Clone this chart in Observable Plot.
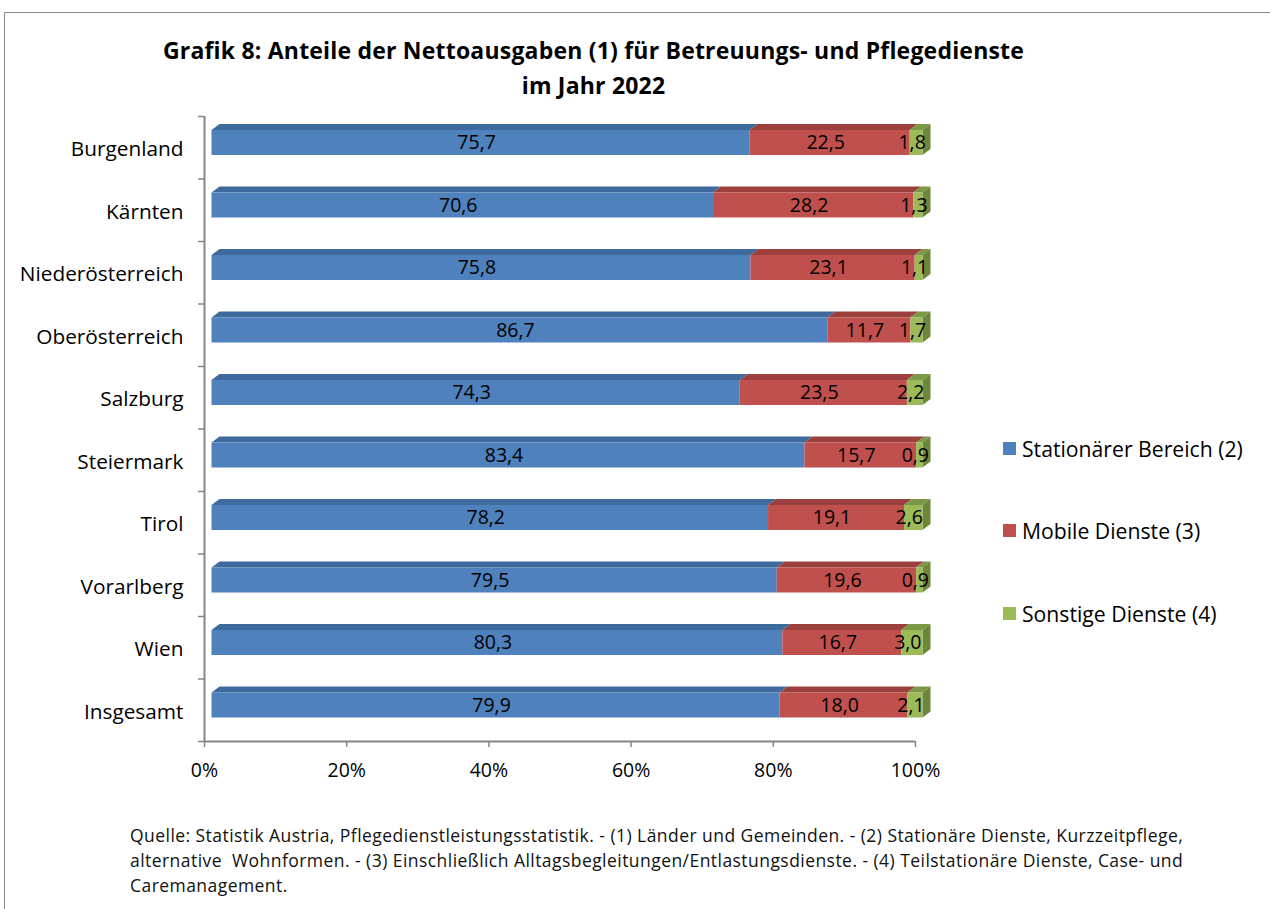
<!DOCTYPE html>
<html><head><meta charset="utf-8">
<script src="https://cdn.jsdelivr.net/npm/d3@7"></script>
<script src="https://cdn.jsdelivr.net/npm/@observablehq/plot@0.6"></script>
<style>
body{margin:0;background:#fff;width:1270px;height:909px;position:relative;overflow:hidden;font-family:"Open Sans",sans-serif;}
#frame{position:absolute;left:4px;top:12px;width:1290px;height:920px;border:1.5px solid #8a8a8a;z-index:5;pointer-events:none;}
#chart{position:absolute;left:0;top:0;}
#title{position:absolute;left:0;width:1187px;top:33px;text-align:center;font-family:"Open Sans",sans-serif;font-weight:bold;font-size:23px;letter-spacing:0.2px;line-height:35px;color:#000;z-index:3;}
#legend{position:absolute;left:1003px;top:0;z-index:3;}
.li{position:absolute;left:0;white-space:nowrap;color:#000;display:flex;align-items:center;}
.sw{width:13px;height:13px;margin-right:6px;display:inline-block;}
#caption{position:absolute;left:130px;top:823px;width:1140px;white-space:nowrap;font-family:"Open Sans",sans-serif;font-size:17.5px;letter-spacing:0.45px;line-height:25px;color:#111;z-index:3;}
</style>
</head><body>
<div id="frame"></div>
<div id="title">Grafik 8: Anteile der Nettoausgaben (1) für Betreuungs- und Pflegedienste<br>im Jahr 2022</div>
<div id="chart"></div>
<div id="legend"></div>
<div id="caption">Quelle: Statistik Austria, Pflegedienstleistungsstatistik. - (1) Länder und Gemeinden. - (2) Stationäre Dienste, Kurzzeitpflege,<br>alternative&nbsp; Wohnformen. - (3) Einschließlich Alltagsbegleitungen/Entlastungsdienste. - (4) Teilstationäre Dienste, Case- und<br>Caremanagement.</div>
<script>
const regions = ["Burgenland","Kärnten","Niederösterreich","Oberösterreich","Salzburg","Steiermark","Tirol","Vorarlberg","Wien","Insgesamt"];
const stationaer = [75.7,70.6,75.8,86.7,74.3,83.4,78.2,79.5,80.3,79.9];
const mobile = [22.5,28.2,23.1,11.7,23.5,15.7,19.1,19.6,16.7,18.0];
const sonstige = [1.8,1.3,1.1,1.7,2.2,0.9,2.6,0.9,3.0,2.1];
const seriesNames = ["Stationärer Bereich (2)","Mobile Dienste (3)","Sonstige Dienste (4)"];
const frontColors = ["#4F81BD","#C0504D","#9BBB59"];
const topColors = ["#3E6A9E","#9C403D","#7B9844"];
const sideColor = "#6C873A";
const xTicks = [0,20,40,60,80,100];

const W = 1270, H = 909;
const mL = 204, mR = W - 915, mT = 116, mB = H - 741;
const pxX = (W - mL - mR) / 100;       // px per %
const pxY = (H - mT - mB) / regions.length; // px per band
const ox = 8 / pxX, oy = 6 / pxY;       // 3D depth in data units
const fTop = 0.224, fBot = 0.624;
const shift = 7.5;

const series = [stationaer, mobile, sonstige];
const segs = [];
regions.forEach((r, i) => {
  const total = series.reduce((s, a) => s + a[i], 0);
  let cum = 0;
  series.forEach((a, k) => {
    const s = cum / total * 100; cum += a[i];
    const e = cum / total * 100;
    segs.push({region: r, i, k, value: a[i], x1: s, x2: e, front: frontColors[k], top: topColors[k]});
  });
});
const topPts = segs.flatMap((d, j) => [
  {seg: j, y: d.i + fTop, x1: d.x1, x2: d.x2, fill: d.top},
  {seg: j, y: d.i + fTop - oy, x1: d.x1 + ox, x2: d.x2 + ox, fill: d.top}
]);
const sidePts = regions.flatMap((r, i) => [
  {i, x: 100, y1: i + fTop, y2: i + fBot},
  {i, x: 100 + ox, y1: i + fTop - oy, y2: i + fBot - oy}
]);
const fmt = v => d3.format(".1f")(v).replace(".", ",");
const axisCol = "#868686";

const chart = Plot.plot({
  width: W, height: H,
  marginLeft: mL, marginRight: mR, marginTop: mT, marginBottom: mB,
  style: {fontFamily: "'Open Sans', sans-serif", fontSize: "19px", background: "transparent", color: "#000"},
  x: {domain: [0, 100]},
  y: {domain: [regions.length, 0]},
  marks: [
    Plot.areaX(topPts, {y: "y", x1: "x1", x2: "x2", z: "seg", fill: "fill", dx: shift}),
    Plot.areaY(sidePts, {x: "x", y1: "y1", y2: "y2", z: "i", fill: sideColor, dx: shift}),
    Plot.rect(segs, {x1: "x1", x2: "x2", y1: d => d.i + fTop, y2: d => d.i + fBot, fill: "front", dx: shift}),
    Plot.text(segs, {x: d => (d.x1 + d.x2) / 2, y: d => d.i + (fTop + fBot) / 2, text: d => fmt(d.value), fontSize: 19.5, fill: "#000", dx: 3}),
    Plot.axisY({ticks: d3.range(regions.length + 1), tickFormat: () => "", tickSize: 6, stroke: axisCol, strokeWidth: 1.5, label: null}),
    Plot.axisY({ticks: d3.range(regions.length).map(i => i + 0.5), tickFormat: t => regions[Math.round(t - 0.5)], tickSize: 0, tickPadding: 21, fontSize: 20.8, fill: "#000", dy: 2, label: null}),
    Plot.axisX({ticks: xTicks, tickFormat: d => d + "%", tickSize: 6, tickPadding: 16, stroke: axisCol, strokeWidth: 1.5, fontSize: 19.5, fill: "#000", label: null}),
    Plot.ruleX([0], {y1: 0, y2: regions.length, stroke: axisCol, strokeWidth: 2}),
    Plot.ruleY([regions.length], {x1: 0, x2: 100, stroke: axisCol, strokeWidth: 2})
  ]
});
document.getElementById("chart").appendChild(chart);

const legendY = [448, 530, 613];
const lg = document.getElementById("legend");
seriesNames.forEach((n, k) => {
  const div = document.createElement("div");
  div.className = "li";
  div.style.top = (legendY[k] - 14) + "px";
  div.style.height = "28px";
  div.style.fontSize = "21.2px";
  div.innerHTML = `<span class="sw" style="background:${frontColors[k]}"></span>${n}`;
  lg.appendChild(div);
});
</script>
</body></html>
